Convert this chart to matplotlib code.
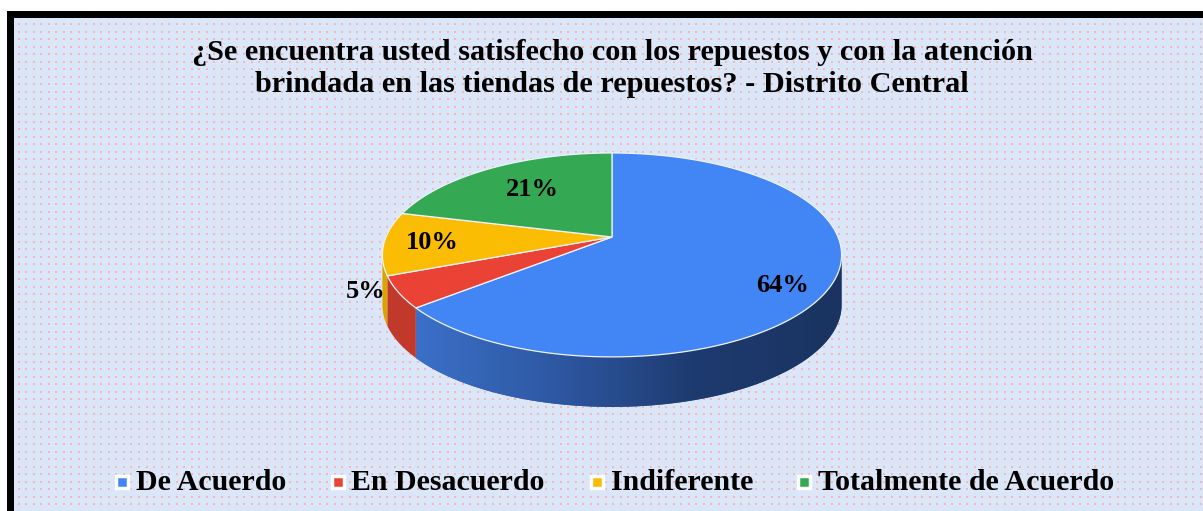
import numpy as np
import matplotlib
matplotlib.use("Agg")
import matplotlib.pyplot as plt
from matplotlib.patches import Polygon, Rectangle
from matplotlib.colors import LinearSegmentedColormap

# ---- data ----
title = "¿Se encuentra usted satisfecho con los repuestos y con la atención\nbrindada en las tiendas de repuestos? - Distrito Central"
categories = ["De Acuerdo", "En Desacuerdo", "Indiferente", "Totalmente de Acuerdo"]
values = [64, 5, 10, 21]

# ---- styles ----
top_colors = ["#4285f4", "#ea4335", "#fbbc04", "#34a853"]
side_colors = ["#2b559e", "#c0392b", "#d9a300", "#2a8a45"]
label_r = [0.80, 1.13, 0.72, 0.72]
label_off = [(-3, 13), (-2, -9), (-16, 1), (11, 4)]
W, H = 1203, 511
cx, cy = 612, 237          # apex of the pie (pixel coords)
sx, sy, k = 226.0, 98.8, 0.176
depth = 50
serif = "Liberation Serif"

fig = plt.figure(figsize=(W / 100, H / 100), dpi=100)
ax = fig.add_axes([0, 0, 1, 1])
ax.set_xlim(0, W)
ax.set_ylim(H, 0)
ax.axis("off")

# background frame
ax.add_patch(Rectangle((7, 11), W, H, facecolor="black", edgecolor="none", zorder=0))
ax.add_patch(Rectangle((14, 18), W, H, facecolor="#dbe6f8", edgecolor="none", zorder=0.1))
gx, gy = np.meshgrid(np.arange(18.5, W, 7.53), np.arange(24.5, H, 7.5))
ax.scatter(gx.ravel(), gy.ravel(), s=2.4, marker="s", color="#f2bab7", linewidths=0, zorder=0.2)


def proj(theta_deg, r=1.0):
    t = np.radians(theta_deg)
    x = r * np.cos(t)
    z = r * np.sin(t)
    d = 1 + k * z
    return cx + sx * x / d, cy - sy * z / d


# slice angles: start at top (90deg), clockwise
total = float(sum(values))
starts, ends = [], []
a = 90.0
for v in values:
    b = a - 360.0 * v / total
    starts.append(a)
    ends.append(b)
    a = b

# visible front rim range
tk = np.degrees(np.arcsin(k))
vis_lo, vis_hi = -180 + tk, -tk

grad_cmap = LinearSegmentedColormap.from_list(
    "side", [(0, "#3b70c8"), (0.35, "#2d569f"), (0.65, "#1e3b70"), (1, "#1a3360")])

for i in range(len(values)):
    lo, hi = ends[i], starts[i]
    for shift in (0, -360, 360):
        l2, h2 = max(lo + shift, vis_lo), min(hi + shift, vis_hi)
        if h2 > l2:
            th = np.linspace(l2, h2, 120)
            xs, ys = proj(th)
            px = np.concatenate([xs, xs[::-1]])
            py = np.concatenate([ys, ys[::-1] + depth])
            poly = Polygon(np.column_stack([px, py]), closed=True,
                           facecolor=side_colors[i], edgecolor="none", zorder=1)
            ax.add_patch(poly)
            if i == 0:
                xmin, xmax = px.min(), px.max()
                ymin, ymax = py.min(), py.max()
                grad = np.linspace(0, 1, 256)[None, :]
                im = ax.imshow(grad, cmap=grad_cmap, extent=(xmin, xmax, ymax, ymin),
                               aspect="auto", zorder=1.1, interpolation="bilinear")
                im.set_clip_path(poly)

# top wedges
for i in range(len(values)):
    th = np.linspace(starts[i], ends[i], 200)
    xs, ys = proj(th)
    px = np.concatenate([[cx], xs])
    py = np.concatenate([[cy], ys])
    ax.add_patch(Polygon(np.column_stack([px, py]), closed=True,
                         facecolor=top_colors[i], edgecolor="#eef3fb",
                         linewidth=0.9, zorder=2))

# labels
for i, v in enumerate(values):
    mid = (starts[i] + ends[i]) / 2
    lx, ly = proj(mid, label_r[i])
    ax.text(lx + label_off[i][0], ly + label_off[i][1], f"{v}%", ha="center",
            va="center", fontsize=19, fontweight="bold", family=serif,
            color="black", zorder=3)

# title
ax.text(612, 68.5, title, ha="center", va="center", fontsize=21.8, fontweight="bold",
        family=serif, linespacing=1.2, zorder=3)

# legend
leg_sq_x = [122, 338, 597, 804]
leg_tx = [136, 351, 611, 818]
for i, c in enumerate(categories):
    ax.add_patch(Rectangle((leg_sq_x[i] - 6, 476), 12, 12, facecolor=top_colors[i],
                           edgecolor="white", linewidth=2.5, zorder=3))
    ax.text(leg_tx[i], 482, c, ha="left", va="center", fontsize=21.5,
            fontweight="bold", family=serif, zorder=3)

fig.savefig("out.png", dpi=100)
